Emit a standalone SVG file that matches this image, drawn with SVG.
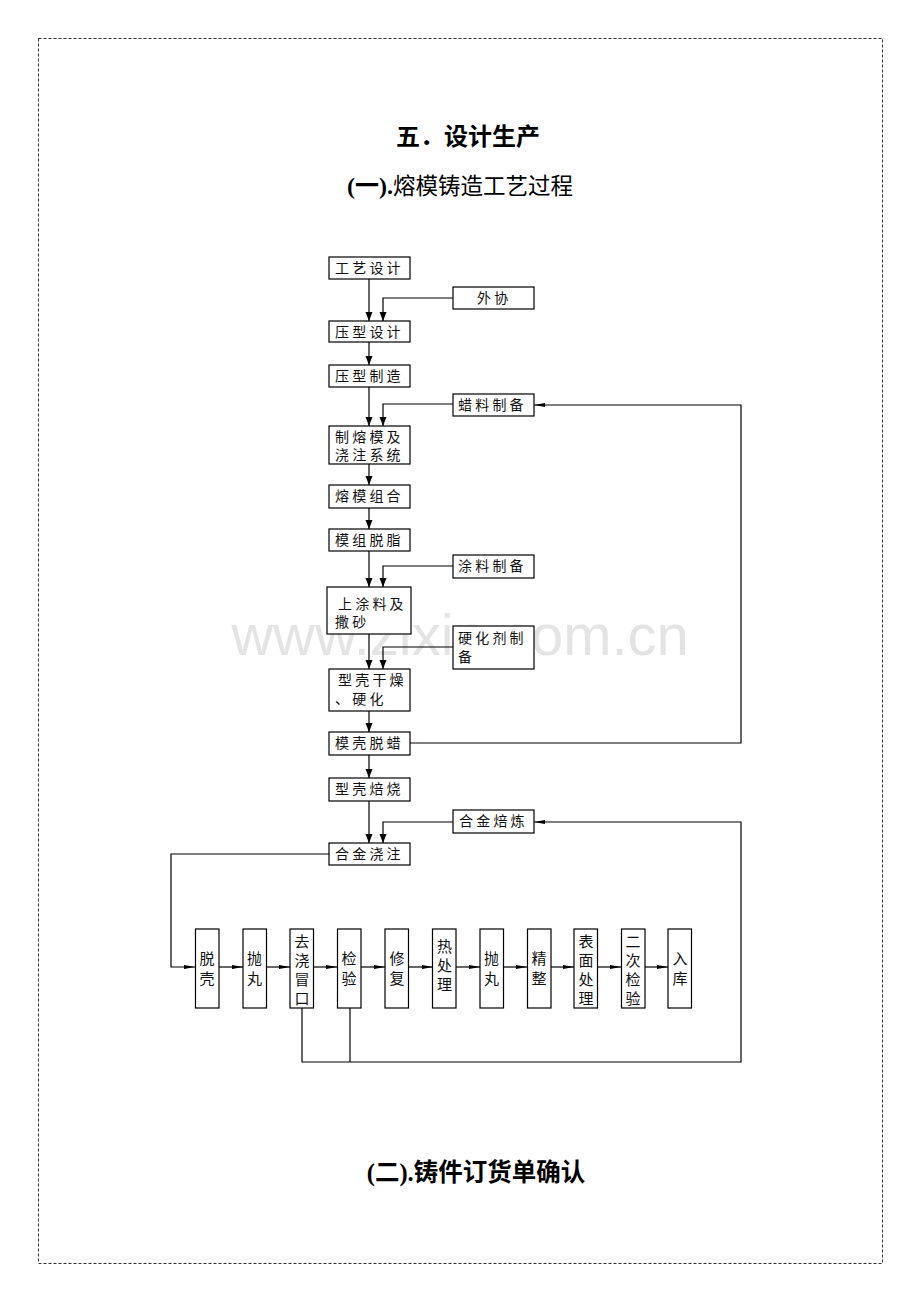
<svg xmlns="http://www.w3.org/2000/svg" width="920" height="1302" viewBox="0 0 920 1302">
<style>
.box{fill:#fff;stroke:#000;stroke-width:1.2}
.lbl{font-family:"Noto Sans CJK SC","Noto Sans",sans-serif;font-size:14px;letter-spacing:3.2px;fill:#111}
.vl{font-family:"Noto Sans CJK SC","Noto Sans",sans-serif;font-size:15px;fill:#111;text-anchor:middle}
.ln{fill:none;stroke:#000;stroke-width:1.2}
.title{font-family:"Liberation Serif","Noto Sans CJK SC",serif;fill:#000}
.wm{font-family:"Liberation Sans","Noto Sans",sans-serif;font-size:58px;fill:#000;opacity:0.1}
</style>
<defs>
<marker id="ah" markerUnits="userSpaceOnUse" markerWidth="10" markerHeight="8" refX="9" refY="3.5" orient="auto">
<path d="M0,0 L9,3.5 L0,7 z" fill="#000"/>
</marker>
<marker id="ahs" markerUnits="userSpaceOnUse" markerWidth="12" markerHeight="6" refX="11" refY="2.5" orient="auto">
<path d="M0,0.5 L11,2.5 L0,4.5 z" fill="#000"/>
</marker>
</defs>
<rect width="920" height="1302" fill="#fff"/>
<rect x="38.5" y="38.5" width="844" height="1225" fill="none" stroke="#333" stroke-width="1" stroke-dasharray="3,2"/>

<text class="wm" x="460" y="655" text-anchor="middle">www.zixin.com.cn</text>

<g id="titles">
<text class="title" x="468" y="145" font-size="24" font-weight="bold" text-anchor="middle">五．设计生产</text>
<text class="title" x="460" y="194" font-size="24" text-anchor="middle"><tspan font-weight="bold">(一).</tspan><tspan font-family="Noto Sans CJK SC,sans-serif" font-size="22.5">熔模铸造工艺过程</tspan></text>
<text class="title" x="476" y="1181" font-size="24.5" font-weight="bold" text-anchor="middle">(二).铸件订货单确认</text>
</g>

<g id="connectors">
<path class="ln" d="M369,279 V321" marker-end="url(#ah)"/>
<path class="ln" d="M453,298 H383 V321" marker-end="url(#ah)"/>
<path class="ln" d="M369,342 V365" marker-end="url(#ah)"/>
<path class="ln" d="M369,387 V426" marker-end="url(#ah)"/>
<path class="ln" d="M453,404 H383 V426" marker-end="url(#ah)"/>
<path class="ln" d="M369,464 V485" marker-end="url(#ah)"/>
<path class="ln" d="M369,508 V529" marker-end="url(#ah)"/>
<path class="ln" d="M369,551 V587" marker-end="url(#ah)"/>
<path class="ln" d="M453,566 H383 V587" marker-end="url(#ah)"/>
<path class="ln" d="M369,634 V669" marker-end="url(#ah)"/>
<path class="ln" d="M453,647 H383 V669" marker-end="url(#ah)"/>
<path class="ln" d="M369,711 V732" marker-end="url(#ah)"/>
<path class="ln" d="M410,743 H741 V405 H534" marker-end="url(#ahs)"/>
<path class="ln" d="M369,755 V778" marker-end="url(#ah)"/>
<path class="ln" d="M369,801 V843" marker-end="url(#ah)"/>
<path class="ln" d="M453,822 H383 V843" marker-end="url(#ah)"/>
<path class="ln" d="M329,854 H171 V967 H195" marker-end="url(#ahs)"/>
<path class="ln" d="M219,967 H243" marker-end="url(#ahs)"/>
<path class="ln" d="M266,967 H290" marker-end="url(#ahs)"/>
<path class="ln" d="M313,967 H337" marker-end="url(#ahs)"/>
<path class="ln" d="M361,967 H385" marker-end="url(#ahs)"/>
<path class="ln" d="M409,967 H433" marker-end="url(#ahs)"/>
<path class="ln" d="M456,967 H480" marker-end="url(#ahs)"/>
<path class="ln" d="M503,967 H527" marker-end="url(#ahs)"/>
<path class="ln" d="M551,967 H574" marker-end="url(#ahs)"/>
<path class="ln" d="M598,967 H621" marker-end="url(#ahs)"/>
<path class="ln" d="M645,967 H668" marker-end="url(#ahs)"/>
<path class="ln" d="M302,1008 V1062 H741 V822 H534" marker-end="url(#ahs)"/>
<path class="ln" d="M350,1008 V1062"/>
</g>

<g id="n-gyjs"><rect class="box" x="329" y="257" width="81" height="22"/><text class="lbl" x="335" y="273">工艺设计</text></g>
<g id="n-waixie"><rect class="box" x="453" y="287" width="81" height="22"/><text class="lbl" x="477" y="303" letter-spacing="9">外协</text></g>
<g id="n-yxsj"><rect class="box" x="329" y="321" width="81" height="21"/><text class="lbl" x="335" y="336.5">压型设计</text></g>
<g id="n-yxzz"><rect class="box" x="329" y="365" width="81" height="22"/><text class="lbl" x="335" y="381">压型制造</text></g>
<g id="n-llzb"><rect class="box" x="453" y="394" width="81" height="22"/><text class="lbl" x="458" y="410">蜡料制备</text></g>
<g id="n-zrm"><rect class="box" x="329" y="426" width="81" height="38"/><text class="lbl" x="335" y="442">制熔模及</text><text class="lbl" x="335" y="460">浇注系统</text></g>
<g id="n-rmzh"><rect class="box" x="329" y="485" width="81" height="23"/><text class="lbl" x="335" y="501">熔模组合</text></g>
<g id="n-mztz"><rect class="box" x="329" y="529" width="81" height="22"/><text class="lbl" x="335" y="545">模组脱脂</text></g>
<g id="n-tlzb"><rect class="box" x="453" y="555" width="81" height="23"/><text class="lbl" x="458" y="571">涂料制备</text></g>
<g id="n-stl"><rect class="box" x="327" y="587" width="84" height="47"/><text class="lbl" x="338" y="609">上涂料及</text><text class="lbl" x="335" y="627">撒砂</text></g>
<g id="n-yhj"><rect class="box" x="453" y="626" width="81" height="43"/><text class="lbl" x="458" y="643">硬化剂制</text><text class="lbl" x="458" y="662">备</text></g>
<g id="n-xkgz"><rect class="box" x="329" y="669" width="81" height="42"/><text class="lbl" x="338" y="685">型壳干燥</text><text class="lbl" x="335" y="704">、硬化</text></g>
<g id="n-mktl"><rect class="box" x="329" y="732" width="81" height="23"/><text class="lbl" x="335" y="748">模壳脱蜡</text></g>
<g id="n-xkbs"><rect class="box" x="329" y="778" width="81" height="23"/><text class="lbl" x="335" y="794">型壳焙烧</text></g>
<g id="n-hjbl"><rect class="box" x="453" y="810" width="81" height="23"/><text class="lbl" x="459" y="826">合金焙炼</text></g>
<g id="n-hjjz"><rect class="box" x="329" y="843" width="81" height="22"/><text class="lbl" x="335" y="859">合金浇注</text></g>

<g id="r-tuoke"><rect class="box" x="195.5" y="929" width="23.5" height="79"/><text class="vl" x="207" y="963.5">脱<tspan x="207" dy="20">壳</tspan></text></g>
<g id="r-paowan1"><rect class="box" x="243" y="929" width="23.5" height="79"/><text class="vl" x="254.5" y="963.5">抛<tspan x="254.5" dy="20">丸</tspan></text></g>
<g id="r-qjmk"><rect class="box" x="290" y="929" width="23.5" height="79"/><text class="vl" x="302" y="946.5">去<tspan x="302" dy="19">浇</tspan><tspan x="302" dy="19">冒</tspan><tspan x="302" dy="19">口</tspan></text></g>
<g id="r-jianyan"><rect class="box" x="337.5" y="929" width="23.5" height="79"/><text class="vl" x="349" y="963.5">检<tspan x="349" dy="20">验</tspan></text></g>
<g id="r-xiufu"><rect class="box" x="385" y="929" width="23.5" height="79"/><text class="vl" x="397" y="963.5">修<tspan x="397" dy="20">复</tspan></text></g>
<g id="r-rcl"><rect class="box" x="432.5" y="929" width="23.5" height="79"/><text class="vl" x="444.5" y="952">热<tspan x="444.5" dy="19">处</tspan><tspan x="444.5" dy="19">理</tspan></text></g>
<g id="r-paowan2"><rect class="box" x="480" y="929" width="23.5" height="79"/><text class="vl" x="491.5" y="963.5">抛<tspan x="491.5" dy="20">丸</tspan></text></g>
<g id="r-jingzheng"><rect class="box" x="527.5" y="929" width="23.5" height="79"/><text class="vl" x="539" y="963.5">精<tspan x="539" dy="20">整</tspan></text></g>
<g id="r-bmcl"><rect class="box" x="574" y="929" width="23.5" height="79"/><text class="vl" x="586" y="946.5">表<tspan x="586" dy="19">面</tspan><tspan x="586" dy="19">处</tspan><tspan x="586" dy="19">理</tspan></text></g>
<g id="r-ecjy"><rect class="box" x="621.5" y="929" width="23.5" height="79"/><text class="vl" x="633" y="946.5">二<tspan x="633" dy="19">次</tspan><tspan x="633" dy="19">检</tspan><tspan x="633" dy="19">验</tspan></text></g>
<g id="r-ruku"><rect class="box" x="668" y="929" width="23.5" height="79"/><text class="vl" x="680" y="963.5">入<tspan x="680" dy="20">库</tspan></text></g>
</svg>
